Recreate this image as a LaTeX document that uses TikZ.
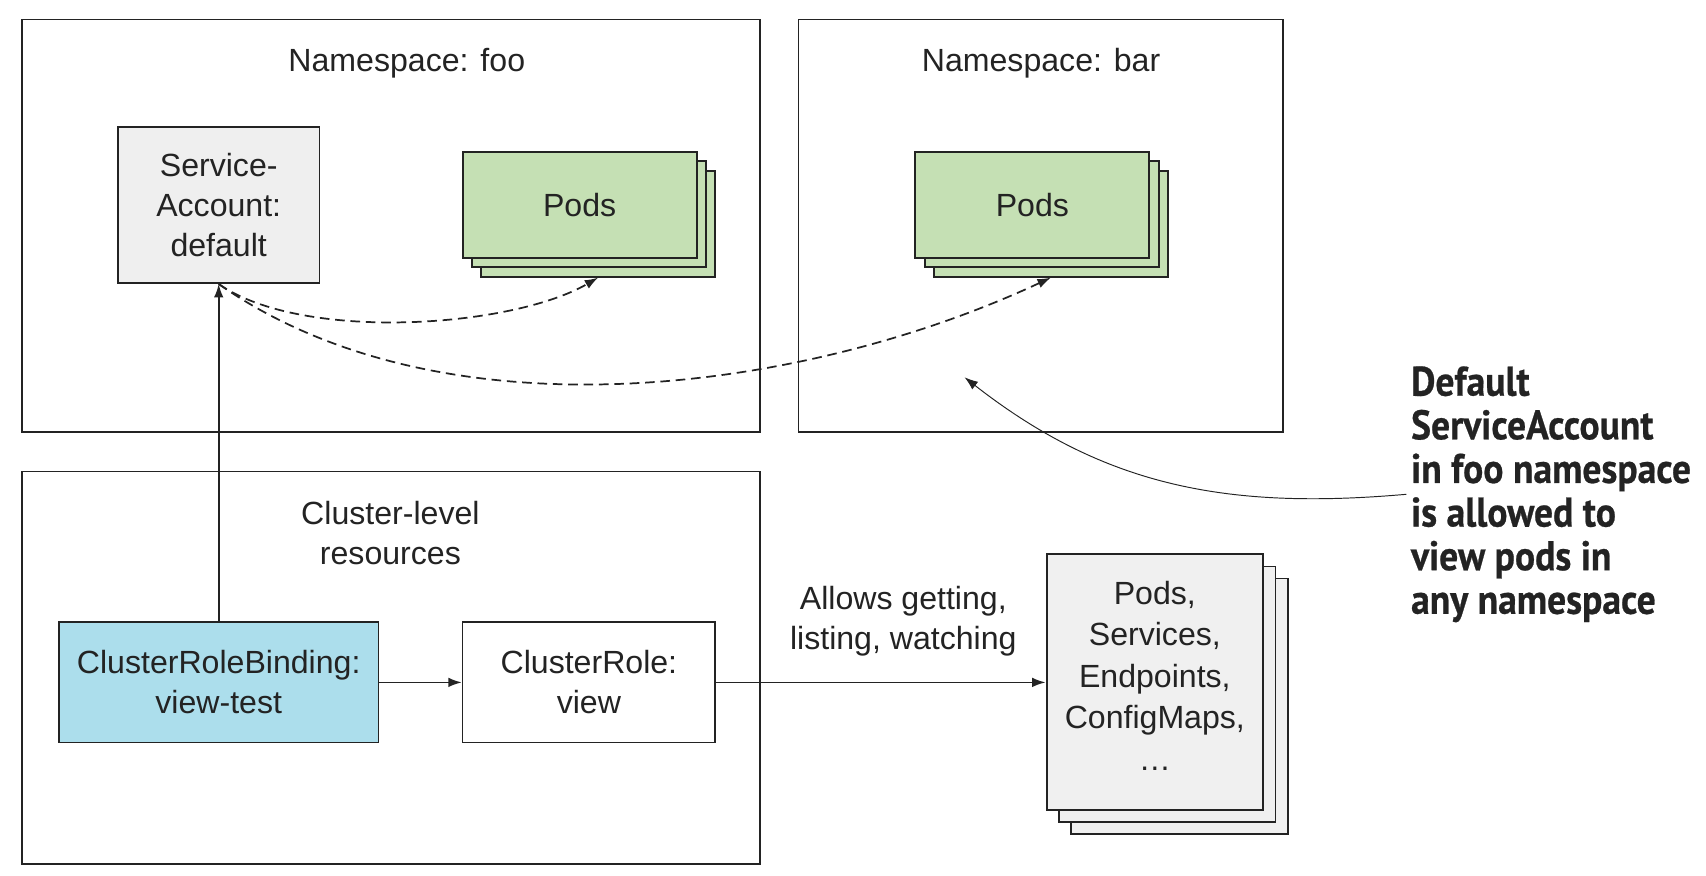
\documentclass[tikz,border=0pt]{standalone}
\usepackage{fontspec}
\setmainfont{Liberation Sans}
\newfontfamily\calloutfont[FakeStretch=0.91, BoldFeatures={FakeBold=0.6}]{PT Sans}
\usetikzlibrary{positioning,calc,arrows.meta}

\definecolor{accountgray}{RGB}{239,239,239}
\definecolor{podgreen}{RGB}{197,224,180}
\definecolor{bindingblue}{RGB}{172,222,236}
\definecolor{resourcegray}{RGB}{240,240,240}
\definecolor{linegray}{RGB}{35,35,35}

\begin{document}
\begin{tikzpicture}[x=0.2mm, y=-0.2mm,
    every node/.style={font=\fontsize{16.7}{20.8}\selectfont, text=linegray},
    region/.style={rectangle, draw=linegray, line width=0.8pt, inner sep=0pt},
    objbox/.style={rectangle, draw=linegray, line width=0.8pt, align=center, inner sep=2pt},
    podbox/.style={objbox, fill=podgreen, line width=1pt, minimum width=42.8mm, minimum height=19.4mm},
    resbox/.style={objbox, fill=resourcegray, line width=1pt, minimum width=39.6mm, minimum height=46.8mm},
    arrow/.style={-{Latex[length=7pt,width=5pt]}, line width=0.9pt, linegray},
    access/.style={arrow, dash pattern=on 5pt off 3pt},
    callarrow/.style={-{Latex[length=7pt,width=5pt]}, line width=0.5pt, linegray}]
    \useasboundingbox (0,0) rectangle (1560,801);

    % Namespace foo - top left
    \node [region, minimum width=135mm, minimum height=75.4mm] (foo) at (357.5,206.5) {};
    \node (footitle) at (372,58) {Namespace: foo};

    % Namespace bar - top right
    \node [region, minimum width=88.6mm, minimum height=75.4mm] (bar) at (951.5,206.5) {};
    \node (bartitle) at (952,58) {Namespace: bar};

    % Cluster-level resources - bottom left
    \node [region, minimum width=135mm, minimum height=71.8mm] (cluster) at (357.5,610.5) {};
    \node [align=center] (clustertitle) at (357,487) {Cluster-level\\resources};

    % ServiceAccount in foo
    \node [objbox, fill=accountgray, minimum width=36.8mm, minimum height=28.6mm] (sa) at (200,187.5) {Service-\\Account:\\default};

    % Pods stacks
    \foreach \d in {2,1} {
        \node [podbox] (podsfoo\d) at ($(530,187.5)+(\d*8.5,\d*8.5)$) {};
        \node [podbox] (podsbar\d) at ($(944,187.5)+(\d*8.5,\d*8.5)$) {};
    }
    \node [podbox] (podsfoo) at (530,187.5) {Pods};
    \node [podbox] (podsbar) at (944,187.5) {Pods};

    % Binding and role
    \node [objbox, fill=bindingblue, minimum width=58.4mm, minimum height=22mm] (crb) at (200,624) {ClusterRoleBinding:\\view-test};
    \node [objbox, fill=white, minimum width=46.2mm, minimum height=22mm] (cr) at (538.5,624) {ClusterRole:\\view};

    % Resources stack - bottom right
    \foreach \d in {2,1}
        \node [resbox] (res\d) at ($(1056,624)+(\d*11.3,\d*11)$) {};
    \node [resbox] (res) at (1056,624) {};
    \node [align=center, font=\fontsize{16.7}{21.6}\selectfont] (restext) at (1056,618) {Pods,\\Services,\\Endpoints,\\ConfigMaps,\\\ldots};

    \node [align=center] (verbs) at (826,568) {Allows getting,\\listing, watching};

    % Callout
    \node [anchor=west, align=left, inner sep=0pt, font=\calloutfont\bfseries\fontsize{21.5}{22.7}\selectfont] (callout) at (1290,452)
        {Default\\ServiceAccount\\in foo namespace\\is allowed to\\view pods in\\any namespace};
    \coordinate (calltip) at (882,345);

    % Relationships
    \draw [arrow] (crb) -- (cr);
    \draw [arrow] (cr) -- (res);
    \draw [arrow] (crb.north) -- (sa.south);
    \draw [access] (sa.south) to[out=-35,in=-150,looseness=0.68] (podsfoo2.south);
    \draw [access] (sa.south) to[out=-35,in=-155,looseness=0.84] (podsbar2.south);
    \draw [callarrow] ($(callout.west)+(-4,0)$) to[out=185,in=-38] (calltip);

\end{tikzpicture}
\end{document}
